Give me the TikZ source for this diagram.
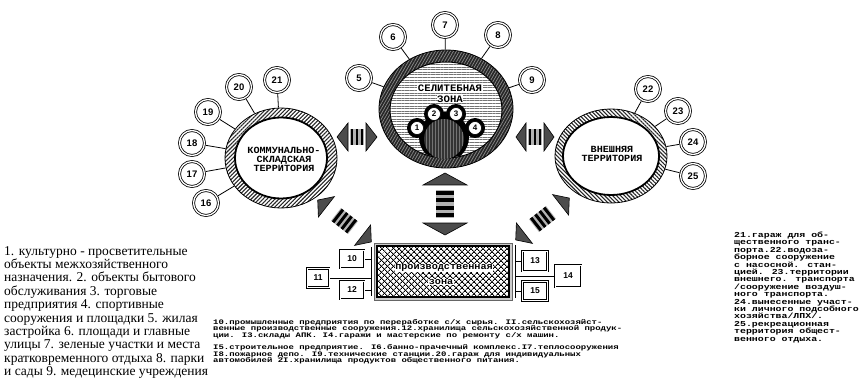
\documentclass[tikz,border=0pt]{standalone}
\usepackage{fontspec}
\setmainfont{Liberation Serif}
\newfontfamily\tw[FakeStretch=1.08]{Liberation Mono}
\newfontfamily\twx[FakeStretch=1.3]{Liberation Mono}
\newfontfamily\numf{Liberation Sans}
\usetikzlibrary{shapes.geometric,patterns.meta}

% cx cy angle halflength trianglehalfwidth trianglelength barhalf nbars pitch
\newcommand\zonearrow[9]{%
 \begin{scope}[shift={(#1,#2)},rotate=#3]
  \fill[black!30] ({-(#8*#9-0.45*#9)/2-1},-#7) rectangle ({(#8*#9-0.45*#9)/2+1},#7);
  \foreach \k in {1,...,#8}
    \fill[black] ({-(#8*#9-0.45*#9)/2+(\k-1)*#9},-#7) rectangle ++({0.55*#9},{2*#7});
  \filldraw[arrtri] (-#4,0) -- ({-#4+#6},-#5) -- ({-#4+#6},#5) -- cycle;
  \filldraw[arrtri] (#4,0) -- ({#4-#6},-#5) -- ({#4-#6},#5) -- cycle;
 \end{scope}}

\begin{document}
\begin{tikzpicture}[x=1pt,y=-1pt,
  numc/.style={circle,draw,double,double distance=1.3pt,line width=0.8pt,fill=white,minimum size=25pt,inner sep=0pt,outer sep=1.5pt,font=\numf\bfseries\fontsize{9.5}{10}\selectfont},
  smallc/.style={circle,draw,line width=0.6pt,fill=white,minimum size=13pt,inner sep=0pt,font=\numf\bfseries\fontsize{8}{8}\selectfont},
  boxn/.style={rectangle,draw,double,double distance=0.9pt,line width=0.9pt,fill=white,minimum width=24pt,minimum height=18pt,inner sep=0pt,outer sep=1pt,font=\numf\bfseries\fontsize{8.5}{9}\selectfont},
  conn/.style={line width=0.8pt},
  zlabel/.style={font=\tw\bfseries\fontsize{9.4}{9}\selectfont,align=center,inner sep=0.6pt},
  arrtri/.style={fill=black!70,draw=black,line width=0.6pt,line join=miter},
  ltext/.style={anchor=base west,inner sep=0pt,font=\fontsize{13.5}{13.4}\selectfont},
  mtext/.style={anchor=base west,inner sep=0pt,font=\twx\bfseries\fontsize{6.9}{6.7}\selectfont},
  rtext/.style={anchor=base west,inner sep=0pt,font=\twx\bfseries\fontsize{7.6}{7.4}\selectfont},
]
\useasboundingbox[fill=white] (0,0) rectangle (866,379);

% ---------- residential zone (centre) ----------
\node[ellipse,minimum width=134pt,minimum height=118pt,draw,line width=0.8pt,inner sep=0pt,
  preaction={fill=black!85},pattern={Lines[angle=60,distance=2.6pt,line width=0.7pt]},pattern color=black!45] (res) at (446,109) {};
\node[ellipse,minimum width=112pt,minimum height=96pt,draw,line width=1pt,inner sep=0pt,
  preaction={fill=white},pattern={Lines[angle=0,distance=2.6pt,line width=0.9pt]},pattern color=black!55] (resin) at (446,110) {};
\begin{scope}
  \clip (446,110) ellipse [x radius=55.5, y radius=47.5];
  \fill[black] (444,137) circle [radius=25];
  \fill[black] (417,128) circle [radius=10];
  \fill[black] (434,114) circle [radius=10];
  \fill[black] (456,114) circle [radius=10];
  \fill[black] (475,128) circle [radius=10];
\end{scope}
\node[circle,minimum size=40pt,inner sep=0pt,preaction={fill=black!80},
  pattern={Lines[angle=90,distance=3pt,line width=0.6pt]},pattern color=black!55] (core) at (444,139) {};
\node[smallc] (c1) at (417,128) {1};
\node[smallc] (c2) at (434,114) {2};
\node[smallc] (c3) at (456,114) {3};
\node[smallc] (c4) at (475,128) {4};
\node[zlabel,fill=white,font=\tw\bfseries\fontsize{9.9}{9}\selectfont] (rest1) at (450,88) {СЕЛИТЕБНАЯ};
\node[zlabel,fill=white,font=\tw\bfseries\fontsize{9.9}{9}\selectfont] (rest2) at (450,99) {ЗОНА};

\node[numc] (n5) at (359,78) {5};
\node[numc] (n6) at (393,37) {6};
\node[numc] (n7) at (445,25) {7};
\node[numc] (n8) at (498,35) {8};
\node[numc] (n9) at (532,80) {9};
\foreach \n in {5,6,7,8,9} \draw[conn] (n\n) -- (res);

% ---------- communal-storage territory (left) ----------
\node[ellipse,minimum width=112pt,minimum height=100pt,draw,line width=0.8pt,inner sep=0pt,
  preaction={fill=white},pattern={Lines[angle=45,distance=2.8pt,line width=1.1pt]},pattern color=black!85] (kom) at (281,158) {};
\node[ellipse,minimum width=92pt,minimum height=81pt,draw,line width=1.8pt,fill=white,inner sep=0pt] (komin) at (281,158) {};
\node[zlabel] (komt) at (284,159) {КОММУНАЛЬНО-\\СКЛАДСКАЯ\\ТЕРРИТОРИЯ};
\node[numc] (n21) at (277,80) {21};
\node[numc] (n20) at (239,87) {20};
\node[numc] (n19) at (208,112) {19};
\node[numc] (n18) at (192,143) {18};
\node[numc] (n17) at (192,174) {17};
\node[numc] (n16) at (206,203) {16};
\foreach \n in {16,...,21} \draw[conn] (n\n) -- (kom);

% ---------- external territory (right) ----------
\node[ellipse,minimum width=112pt,minimum height=94pt,draw,line width=0.8pt,inner sep=0pt,
  preaction={fill=white},pattern={Lines[angle=-45,distance=2.8pt,line width=1.1pt]},pattern color=black!85] (ext) at (611,156) {};
\node[ellipse,minimum width=96pt,minimum height=78pt,draw,line width=1.8pt,fill=white,inner sep=0pt] (extin) at (611,156) {};
\node[zlabel] (extt) at (612,154) {ВНЕШНЯЯ\\ТЕРРИТОРИЯ};
\node[numc] (n22) at (648,89) {22};
\node[numc] (n23) at (678,111) {23};
\node[numc] (n24) at (693,142) {24};
\node[numc] (n25) at (693,176) {25};
\foreach \n in {22,...,25} \draw[conn] (n\n) -- (ext);

% ---------- production zone ----------
\node[rectangle,minimum width=138pt,minimum height=57pt,draw=black!60,line width=0.8pt,fill=black!20,inner sep=0pt] (prod) at (443,271.5) {};
\fill[white] (377,246) rectangle (509,297);
\fill[pattern={Lines[angle=45,distance=4pt,line width=0.9pt]}] (377,246) rectangle (509,297);
\fill[pattern={Lines[angle=-45,distance=4pt,line width=0.9pt]}] (377,246) rectangle (509,297);
\draw[line width=2.4pt] (377,246) rectangle (509,297);
\node[zlabel,fill=white] (prodt1) at (444,268) {производственная};
\node[zlabel,fill=white] (prodt2) at (441,282) {зона};

\node[boxn] (b10) at (352,259) {10};
\node[boxn] (b12) at (352,290) {12};
\node[boxn,minimum width=22pt,minimum height=19pt] (b11) at (318,278) {11};
\node[boxn,minimum width=25pt,minimum height=20pt] (b13) at (535,261) {13};
\node[boxn,minimum width=25pt,minimum height=19pt] (b15) at (535,291) {15};
\node[boxn,minimum width=26pt,minimum height=22pt] (b14) at (568,276) {14};
\coordinate (bl1) at (371,247);
\coordinate (bl2) at (371,296);
\coordinate (br1) at (515,245);
\coordinate (br2) at (515,298);
\draw[conn] (bl1) -- (bl2);
\draw[conn] (br1) -- (br2);
\draw[conn] (b10.east) -- (b10.east -| bl1);
\draw[conn] (b12.east) -- (b12.east -| bl1);
\draw[conn] (b11.east) -- (b11.east -| bl1);
\draw[conn] (b13.west) -- (b13.west -| br1);
\draw[conn] (b15.west) -- (b15.west -| br1);
\draw[conn] (b14.west) -- (b14.west -| br1);

% ---------- double arrows ----------
\zonearrow{357}{137}{0}{20}{14}{11}{8}{3}{5}
\zonearrow{535}{137}{0}{19}{14}{10}{8}{3}{5}
\zonearrow{445}{204}{90}{31}{22}{12}{9}{4}{7.5}
\zonearrow{344.5}{221}{-38}{34}{13}{11}{8}{4}{5.5}
\zonearrow{542.5}{219}{38}{34}{13}{11}{8}{4}{5.5}

% ---------- legends ----------
\foreach \t [count=\i] in {{1. культурно - просветительные},{объекты межхозяйственного},{назначения. 2. объекты бытового},{обслуживания 3. торговые},{предприятия 4. спортивные},{сооружения и площадки 5. жилая},{застройка 6. площади и главные},{улицы 7. зеленые участки и места},{кратковременного отдыха 8. парки},{и сады 9. медецинские учреждения}}
  \node[ltext] (lt\i) at (4,{255+13.4*(\i-1)}) {\t};

\foreach \t [count=\i] in {{10.промышленные предприятия по переработке с/х  сырья. II.сельскохозяйст-},{венные производственные сооружения.12.хранилища сельскохозяйственной продук-},{ции. I3.склады АПК. I4.гаражи и мастерские по ремонту с/х машин.}}
  \node[mtext] (ma\i) at (213,{324+6.7*(\i-1)}) {\t};
\foreach \t [count=\i] in {{I5.строительное предприятие. I6.банно-прачечный комплекс.I7.теплосооружения},{I8.пожарное депо.      I9.технические станции.20.гараж для индивидуальных},{автомобилей 2I.хранилища продуктов общественного питания.}}
  \node[mtext] (mb\i) at (213,{349.5+6.7*(\i-1)}) {\t};

\foreach \t [count=\i] in {{21.гараж для об-},{щественного транс-},{порта.22.водоза-},{борное сооружение},{с насосной. стан-},{цией. 23.территории},{внешнего. транспорта},{/сооружение воздуш-},{ного транспорта.},{24.вынесенные участ-},{ки личного подсобного},{хозяйства/ЛПХ/.},{25.рекреационная},{территория общест-},{венного отдыха.}}
  \node[rtext] (rt\i) at (734,{237.5+7.4*(\i-1)}) {\t};
\end{tikzpicture}
\end{document}
